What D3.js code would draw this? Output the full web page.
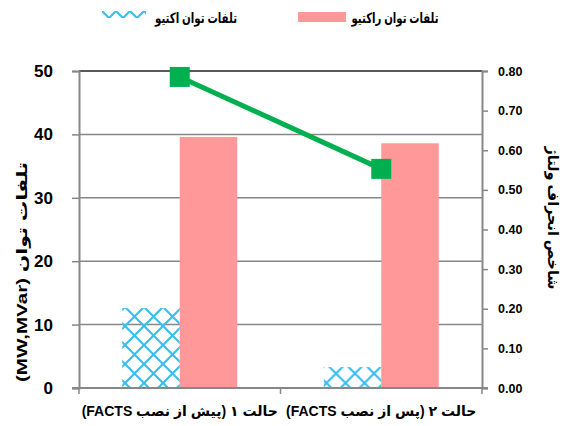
<!DOCTYPE html>
<html>
<head>
<meta charset="utf-8">
<script src="https://cdn.jsdelivr.net/npm/d3@7"></script>
<style>
  body { margin: 0; background: #fff; }
  svg text { font-family: "Liberation Sans", "DejaVu Sans", sans-serif; font-weight: bold; fill: #000; }
</style>
</head>
<body>
<div id="chart"></div>
<script>
// datos
var categorias = ["حالت ۱ (پیش از نصب FACTS)", "حالت ۲ (پس از نصب FACTS)"];
var tlafatActivo = [12.6, 3.3];      // تلفات توان اکتیو
var tlafatReactivo = [39.6, 38.6];   // تلفات توان راکتیو
var indiceDesvio = [0.785, 0.553];   // شاخص انحراف ولتاژ
var ticksIzq = [0, 10, 20, 30, 40, 50];
var ticksDer = [0, 0.1, 0.2, 0.3, 0.4, 0.5, 0.6, 0.7, 0.8];
var nombresSeries = ["تلفات توان اکتیو", "تلفات توان راکتیو"];

var width = 562, height = 426;
var izq = 79, der = 482, arriba = 71, abajo = 388;
var colorRosa = "#ff9999", colorAzul = "#3cbdee", colorVerde = "#00b050", colorEje = "#878787";

var svg = d3.select("#chart").append("svg")
    .attr("width", width)
    .attr("height", height);

var defs = svg.append("defs");
function crearPatron(id, paso) {
    var p = defs.append("pattern")
        .attr("id", id)
        .attr("patternUnits", "userSpaceOnUse")
        .attr("width", paso)
        .attr("height", paso);
    p.append("path")
        .attr("d", "M0,0L" + paso + "," + paso + "M" + paso + ",0L0," + paso)
        .style("stroke", colorAzul)
        .style("stroke-width", 2.2)
        .style("fill", "none");
    return p;
}
crearPatron("rejilla", 19).attr("x", izq + 5).attr("y", 3);
crearPatron("rejillaLeyenda", 14).attr("x", 102).attr("y", 11);

var x = d3.scaleBand().domain(categorias).range([izq, der]);
var bw = x.bandwidth();
var anchoBarra = 57.5;
var xSub = d3.scaleBand().domain(["activo", "reactivo"])
    .range([bw / 2 - anchoBarra, bw / 2 + anchoBarra]);
var yIzq = d3.scaleLinear().domain([0, 50]).range([abajo, arriba]);
var yDer = d3.scaleLinear().domain([0, 0.8]).range([abajo, arriba]);

// lineas de cuadricula
svg.selectAll(".grid")
    .data(ticksIzq.slice(1))
    .enter().append("line")
    .attr("x1", izq).attr("x2", der)
    .attr("y1", function (d) { return yIzq(d); })
    .attr("y2", function (d) { return yIzq(d); })
    .style("stroke", function (d) { return d === 50 ? "#222" : colorEje; })
    .style("stroke-width", 1.5);

// barras
var grupos = svg.selectAll(".grupo")
    .data(categorias)
    .enter().append("g")
    .attr("transform", function (d) { return "translate(" + x(d) + ",0)"; });

grupos.append("rect")
    .attr("x", xSub("activo"))
    .attr("width", xSub.bandwidth())
    .attr("y", function (d, i) { return yIzq(tlafatActivo[i]); })
    .attr("height", function (d, i) { return abajo - yIzq(tlafatActivo[i]); })
    .style("fill", "url(#rejilla)");

grupos.append("rect")
    .attr("x", xSub("reactivo"))
    .attr("width", xSub.bandwidth())
    .attr("y", function (d, i) { return yIzq(tlafatReactivo[i]); })
    .attr("height", function (d, i) { return abajo - yIzq(tlafatReactivo[i]); })
    .style("fill", colorRosa);

// ejes
var ejeIzq = svg.append("g")
    .attr("transform", "translate(" + izq + ",0)")
    .call(d3.axisLeft(yIzq).tickValues(ticksIzq).tickSize(7).tickPadding(19));
ejeIzq.selectAll("text").style("font-size", "17px");

var ejeDer = svg.append("g")
    .attr("transform", "translate(" + der + ",0)")
    .call(d3.axisRight(yDer).tickValues(ticksDer).tickSize(6).tickPadding(10).tickFormat(d3.format(".2f")));
ejeDer.selectAll("text").style("font-size", "12.5px");

var ejeX = svg.append("g")
    .attr("transform", "translate(0," + abajo + ")")
    .call(d3.axisBottom(x).tickValues([]).tickSize(0));

svg.selectAll(".domain").style("stroke", colorEje).style("stroke-width", 2);
svg.selectAll(".tick line").style("stroke", colorEje).style("stroke-width", 1.5);
ejeX.select(".domain").attr("d", "M" + (izq - 7) + ",0H" + (der + 6));

// marcas de separacion de categorias
svg.selectAll(".sep")
    .data([izq, x(categorias[1]), der])
    .enter().append("line")
    .attr("x1", function (d) { return d; }).attr("x2", function (d) { return d; })
    .attr("y1", abajo).attr("y2", abajo + 6)
    .style("stroke", colorEje).style("stroke-width", 1.5);

// etiquetas de categoria
svg.selectAll(".cat")
    .data(categorias)
    .enter().append("text")
    .attr("x", function (d) { return x(d) + bw / 2; })
    .attr("y", 416)
    .attr("text-anchor", "middle")
    .attr("direction", "rtl")
    .style("font-size", "14px")
    .text(function (d) { return d; });

// linea del indice
var linea = d3.line()
    .x(function (d, i) { return x(categorias[i]) + bw / 2; })
    .y(function (d) { return yDer(d); });

svg.append("path")
    .datum(indiceDesvio)
    .attr("d", linea)
    .style("fill", "none")
    .style("stroke", colorVerde)
    .style("stroke-width", 5);

svg.selectAll(".marca")
    .data(indiceDesvio)
    .enter().append("rect")
    .attr("x", function (d, i) { return x(categorias[i]) + bw / 2 - 10; })
    .attr("y", function (d) { return yDer(d) - 10; })
    .attr("width", 20).attr("height", 20)
    .style("fill", colorVerde);

// titulos de ejes
svg.append("text")
    .attr("transform", "translate(27,272) rotate(-90)")
    .attr("text-anchor", "middle")
    .attr("direction", "rtl")
    .style("font-size", "15px")
    .attr("textLength", 220)
    .attr("lengthAdjust", "spacingAndGlyphs")
    .text("تلفات توان (MW,MVar)");

svg.append("text")
    .attr("transform", "translate(548,218) rotate(90)")
    .attr("text-anchor", "middle")
    .attr("direction", "rtl")
    .style("font-size", "15px")
    .attr("textLength", 143)
    .attr("lengthAdjust", "spacingAndGlyphs")
    .text("شاخص انحراف ولتاژ");

// leyenda
svg.append("rect")
    .attr("x", 102).attr("y", 11).attr("width", 44).attr("height", 7)
    .style("fill", "url(#rejillaLeyenda)");
svg.append("text")
    .attr("x", 196).attr("y", 23)
    .attr("text-anchor", "middle")
    .attr("direction", "rtl")
    .style("font-size", "14px")
    .attr("textLength", 82)
    .attr("lengthAdjust", "spacingAndGlyphs")
    .text(nombresSeries[0]);

svg.append("rect")
    .attr("x", 298).attr("y", 12).attr("width", 48).attr("height", 10)
    .style("fill", colorRosa);
svg.append("text")
    .attr("x", 395).attr("y", 23)
    .attr("text-anchor", "middle")
    .attr("direction", "rtl")
    .style("font-size", "14px")
    .attr("textLength", 87)
    .attr("lengthAdjust", "spacingAndGlyphs")
    .text(nombresSeries[1]);
</script>
</body>
</html>
